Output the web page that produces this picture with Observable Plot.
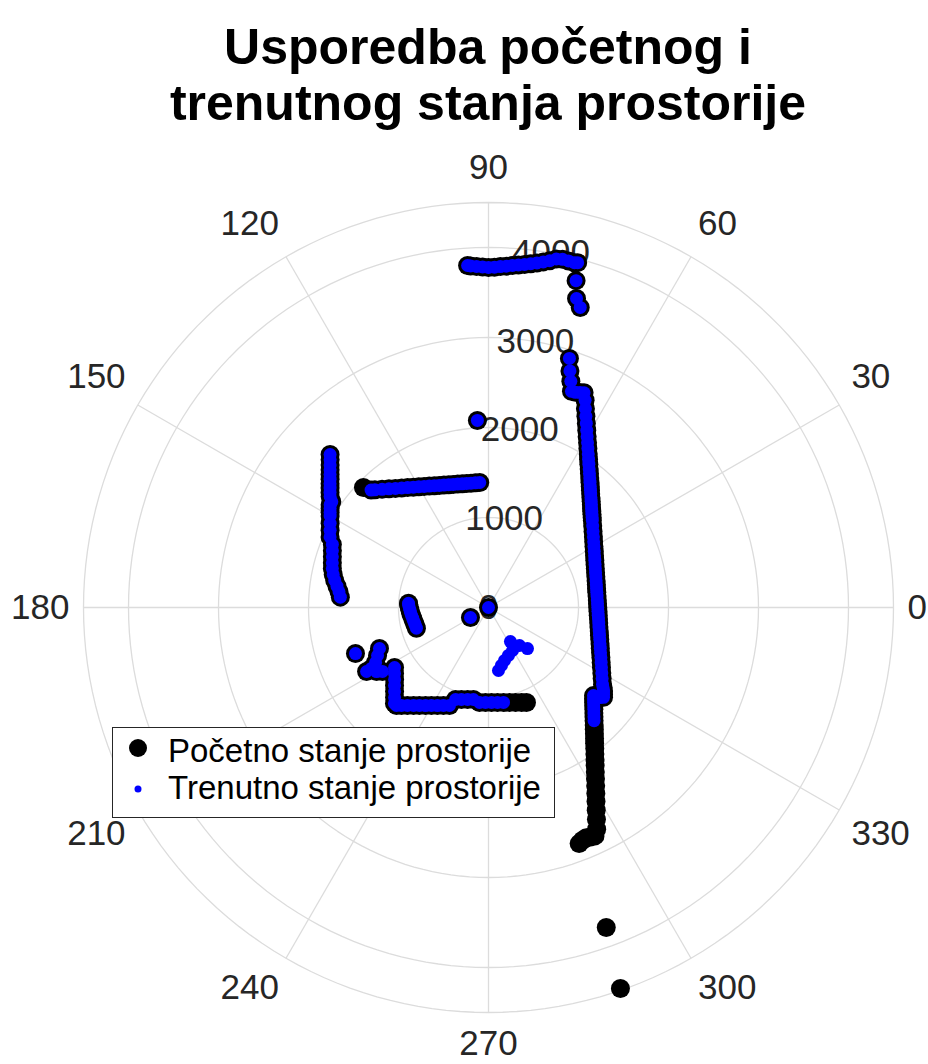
<!DOCTYPE html>
<html>
<head>
<meta charset="utf-8">
<script src="https://cdn.jsdelivr.net/npm/d3@7"></script>
<script src="https://cdn.jsdelivr.net/npm/@observablehq/plot@0.6"></script>
<style>
  body { margin: 0; background: #fff; font-family: "Liberation Sans", Arial, sans-serif; }
  #wrap { position: relative; width: 928px; height: 1064px; overflow: hidden; }
  #title { box-sizing: border-box; height: 140px; padding: 19px 0 0 48px; font-weight: bold;
           font-size: 50px; line-height: 56px; text-align: center; color: #000; }
  #legend { position: absolute; left: 112px; top: 727px; }
  #legend text { font-family: "Liberation Sans", Arial, sans-serif; font-size: 33px; fill: #000; }
</style>
</head>
<body>
<div id="wrap">
  <div id="title">Usporedba početnog i<br>trenutnog stanja prostorije</div>
  <div id="chart"></div>
  <svg id="legend" width="443" height="91">
    <rect x="0.5" y="0.5" width="442" height="90" fill="#fff" stroke="#262626" stroke-width="1"></rect>
    <circle cx="26" cy="21" r="9" fill="#000"></circle>
    <circle cx="26" cy="62" r="3.5" fill="#0000ff"></circle>
    <text x="56" y="35">Početno stanje prostorije</text>
    <text x="56" y="72">Trenutno stanje prostorije</text>
  </svg>
</div>
<script>
// ---- axes ----
const thetaTicks = [0, 30, 60, 90, 120, 150, 180, 210, 240, 270, 300, 330];
const rTicks = [0, 1000, 2000, 3000, 4000];
const rRings = [1000, 2000, 3000, 4000, 4500];
const rMax = 4500;
const rAxisAngle = 80;

// ---- data: [theta (deg), r (mm)] ----
// room features seen in both scans
const topWall = [[75.5,3958],[76,3948],[77,3952],[78,3955],[79,3945],[80,3912],[81,3888],[82,3866],[83,3848],[84,3832],[85,3820],[86,3810],[87,3798],[88,3790],[89,3782],[90,3778],[91,3785],[92,3792],[93,3800],[93.5,3807]];
const topCorner = [[75,3760],[74.1,3570],[73,3486]];
const rightWallTop = [[72,2910],[71,2780],[70,2675],[69,2573],[68,2578],[67,2596],[66,2611],[65,2540]];
const rightWall = [[64,2457],[63,2384],[62,2316],[61,2252],[60,2192],[59,2137],[58,2084],[57,2035],[56,1988],[55,1944],[54,1903],[53,1864],[52,1827],[51,1792],[50,1759],[49,1727],[48,1697],[47,1669],[46,1642],[45,1617],[44,1592],[43,1569],[42,1547],[41,1526],[40,1506],[38,1469],[36,1436],[34,1406],[32,1378],[30,1353],[28,1331],[26,1311],[24,1293],[22,1277],[20,1263],[18,1251],[16,1241],[14,1232],[12,1225],[10,1219],[8,1215],[6,1213],[4,1212],[2,1212],[0,1214],[-2,1217],[-4,1222],[-6,1229],[-8,1237],[-10,1246],[-12,1258],[-14,1271],[-16,1286],[-18,1303],[-20,1322],[-22,1343],[-24,1367],[-26,1393],[-28,1422],[-30,1454],[-32,1489],[-34,1528]];
const rightStep = [[-35,1555],[-36,1580],[-37,1600],[-38,1622],[-39,1590]];
const lowerRightShared = [[-40,1523],[-41,1547],[-42,1572],[-43,1599],[-44,1627],[-45,1656],[-46,1687],[-47,1720]];
const leftWall = [[136,2447],[137,2406],[138,2368],[139,2332],[140,2298],[141,2265],[142,2234],[143,2204],[144,2176],[145,2148],[146,2100],[147,2098],[148,2075],[149,2053],[150,2032],[152,1993],[154,1958],[156,1927],[158,1871],[160,1846],[162,1824],[164,1805],[166,1788],[168,1764],[170,1735],[172,1700],[174,1670],[176,1650]];
const shelfLine = [[94,1392],[96,1393],[98,1395],[100,1399],[102,1405],[104,1413],[106,1423],[108,1434],[110,1448],[112,1463],[114,1481],[116,1501],[118,1524],[120,1549],[122,1576],[124,1607],[126,1641],[128,1679],[130,1721],[132,1767],[134,1817],[135,1845]];
const singlePoints = [[93.4,2082],[209,229],[250,0]];
const nearObject = [[177,890],[178,888],[180,880],[182,873],[184,867],[186,859],[188,851],[190,846],[192,840],[194,836],[196,833]];
const lowerCluster = [[199.1,1564],[200.6,1294],[203.4,1343],[206.0,1396],[207.5,1466],[207.7,1530],[209.8,1433],[211.1,1376]];
const bottomWall = [[212.6,1239],[215.1,1276],[217.5,1315],[219.7,1357],[221.8,1400],[223.8,1446],[225.6,1493],[226.8,1493],[228.4,1456],[230.4,1413],[232.6,1371],[234.8,1332],[237.3,1295],[239.8,1260],[242.5,1228],[245.3,1198],[248.3,1172],[250.3,1086],[253.6,1065],[257.2,1048],[260.7,1036],[264.6,1060],[268.2,1056],[271.8,1056],[275.4,1060],[279.0,1068]];
// only in the initial scan
const shelfEndInitial = [[136.2,1925]];
const bottomEndInitial = [[282.5,1080],[285.9,1097],[289.2,1117],[291.8,1136]];
const lowerRightInitial = [[-48,1755],[-49,1792],[-50,1831],[-51,1872],[-52,1915],[-53,1962],[-54,2011],[-55,2064],[-56,2119],[-57,2179],[-58,2243],[-59,2312],[-60,2385],[-61,2464],[-62,2550],[-63,2642],[-64,2742],[-65,2800],[-66,2790],[-67,2780],[-68,2790],[-69,2810]];
const farPointsInitial = [[-69.8,3789],[-70.9,4480]];
// only in the current scan
const newObjectCurrent = [[302.8,450],[309.2,545],[313.5,629],[299.2,547],[292.6,577],[286.8,615],[282.6,660],[279.0,709]];

const pocetno = [].concat(topWall, topCorner, rightWallTop, rightWall, rightStep, lowerRightShared,
  lowerRightInitial, farPointsInitial, leftWall, shelfLine, shelfEndInitial, singlePoints,
  nearObject, lowerCluster, bottomWall, bottomEndInitial);
const trenutno = [].concat(topWall, topCorner, rightWallTop, rightWall, rightStep, lowerRightShared,
  leftWall, shelfLine, singlePoints, nearObject, lowerCluster, bottomWall, newObjectCurrent);

// ---- helpers ----
const rad = d => d * Math.PI / 180;
const X = d => d[1] * Math.cos(rad(d[0]));
const Y = d => d[1] * Math.sin(rad(d[0]));
const radiusPx = 405;
const mmPerPx = rMax / radiusPx;

const ringPts = rRings.flatMap(r => d3.range(0, 361, 2).map(a => ({r, a})));
// theta labels: anchored just outside the outer ring, aligned away from the centre
const thetaLabels = thetaTicks.map(t => {
  const c = Math.cos(rad(t)), s = Math.sin(rad(t));
  const w = String(t).length * 19.5;
  const anchorPx = radiusPx + 14;
  const sx = Math.abs(c) < 0.01 ? 0 : Math.sign(c);
  const sy = Math.abs(s) < 0.01 ? 0 : Math.sign(s);
  const xPx = anchorPx * c + sx * w / 2;
  const yPx = anchorPx * s + (sy > 0 ? 21 : sy < 0 ? -17 : 0);
  return {t, x: xPx * mmPerPx, y: yPx * mmPerPx};
});

const gridColor = "#dcdcdc";
const font = '"Liberation Sans", Arial, sans-serif';

const chart = Plot.plot({
  width: 928,
  height: 924,
  marginLeft: 83,
  marginRight: 35,
  marginTop: 62,
  marginBottom: 52,
  x: {domain: [-rMax, rMax], axis: null},
  y: {domain: [-rMax, rMax], axis: null},
  style: {fontFamily: font, background: "#fff", overflow: "visible"},
  marks: [
    Plot.line(ringPts, {x: d => d.r * Math.cos(rad(d.a)), y: d => d.r * Math.sin(rad(d.a)), z: "r", stroke: gridColor, strokeWidth: 1.3}),
    Plot.link(thetaTicks, {x1: () => 0, y1: () => 0, x2: t => rMax * Math.cos(rad(t)), y2: t => rMax * Math.sin(rad(t)), stroke: gridColor, strokeWidth: 1.3}),
    Plot.text(rTicks, {x: r => r * Math.cos(rad(rAxisAngle)), y: r => r * Math.sin(rad(rAxisAngle)), text: r => String(r), fontSize: 35, fill: "#262626"}),
    Plot.text(thetaLabels, {x: "x", y: "y", text: d => String(d.t), fontSize: 35, fill: "#262626"}),
    Plot.dot(pocetno, {x: X, y: Y, r: 9.5, fill: "#000000"}),
    Plot.dot(trenutno, {x: X, y: Y, r: 6.5, fill: "#0000ff"})
  ]
});
document.getElementById("chart").appendChild(chart);
</script>
</body>
</html>
